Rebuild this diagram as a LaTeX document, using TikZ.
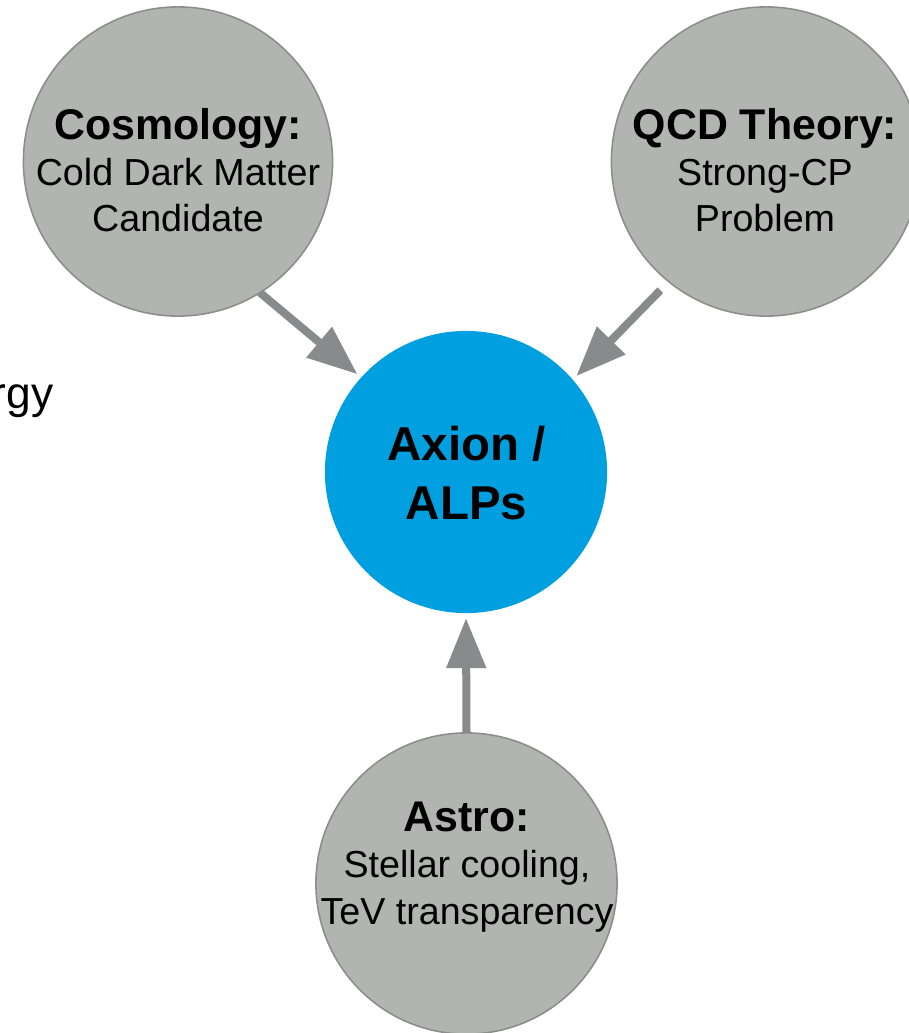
\documentclass[tikz,border=0pt]{standalone}
\usepackage{fontspec}
\setmainfont{Liberation Sans}
\usepackage{tikz}
\usetikzlibrary{shapes, positioning, arrows.meta}

\definecolor{topicgray}{RGB}{178,180,177}
\definecolor{rimgray}{RGB}{140,142,140}
\definecolor{axionblue}{RGB}{0,160,224}
\definecolor{arrowgray}{RGB}{136,139,139}

\newcommand{\topichead}[1]{{\fontsize{12.2}{13.1}\selectfont\bfseries #1}}

\begin{document}
\begin{tikzpicture}[x=0.01cm, y=-0.01cm, -{Triangle[length=5mm, width=3.8mm]}]
\tikzstyle{topic}=[draw=rimgray, line width=0.45pt, fill=topicgray, circle, minimum size=3.09cm, inner sep=0pt, outer sep=0pt]
\tikzstyle{caption}=[align=center, anchor=base, font=\fontsize{10.7}{13.1}\selectfont]
\tikzstyle{link}=[draw=arrowgray, line width=0.8mm]

\useasboundingbox (0,0) rectangle (909,1033);

\node[topic]   (cosmo) at (178,161.5) {};
\node[topic]   (qcd)   at (766,161.5) {};
\node[circle, fill=axionblue, minimum size=2.82cm, inner sep=0pt, outer sep=0.05cm] (axion) at (466,472) {};
\node[topic, minimum size=3.01cm] (astro) at (466.5,883.5) {};

% base anchor sits on the last line
\node[caption] (cosmo-t) at (178,231.7) {\topichead{Cosmology:}\\ Cold Dark Matter\\ Candidate};
\node[caption] (qcd-t)   at (765,231.7) {\topichead{QCD Theory:}\\ Strong-CP\\ Problem};
\node[caption, font=\fontsize{13.5}{16.6}\selectfont\bfseries] (axion-t) at (466.5,519) {Axion /\\ ALPs};
\node[caption] (astro-t) at (467,924)   {\topichead{Astro:}\\ Stellar cooling,\\ TeV transparency};

\node[anchor=base east, inner sep=0pt, font=\fontsize{12.6}{15}\selectfont] (energy) at (54,408) {rgy};

\path
(cosmo.-58) edge[link] (axion.138)
(qcd.-129.5) edge[link, shorten <=0.12cm] (axion.41)
(astro.90) edge[link] (axion.-90);

\end{tikzpicture}
\end{document}
